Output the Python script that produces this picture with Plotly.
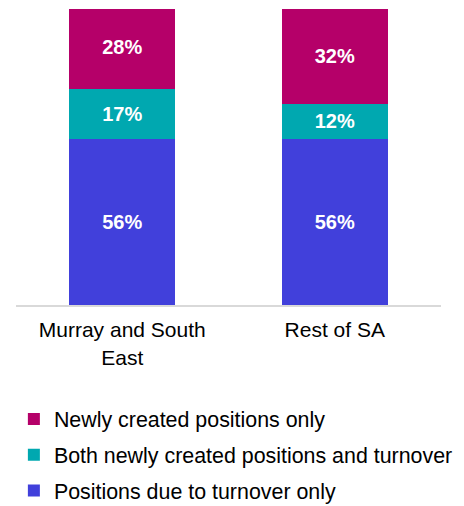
import plotly.graph_objects as go

categories = ["Murray and South<br>East", "Rest of SA"]
turnover_only = [56, 56]
both = [17, 12]
newly_created = [28, 32]

series = [
    ("Positions due to turnover only", turnover_only, "#4140DB", 3),
    ("Both newly created positions and turnover", both, "#00A8B0", 2),
    ("Newly created positions only", newly_created, "#B50069", 1),
]

fig = go.Figure()
for i, (name, vals, color, rank) in enumerate(series):
    fig.add_trace(go.Bar(
        x=categories, y=vals, name=name,
        marker=dict(color=color, line=dict(width=0)),
        texttemplate="%{y:.0f}%", textposition="inside",
        insidetextanchor="middle",
        textfont=dict(family="Liberation Sans, Arial", size=20, color="white", weight="bold"),
        legendgroup=f"g{i}", legendrank=rank,
    ))

# page body has an 8px margin, so the figure is shifted by (8, 8)
fig.update_layout(
    width=456, height=498,
    barmode="stack", bargap=0.5,
    margin=dict(l=8, r=23, t=1, b=201, autoexpand=False),
    paper_bgcolor="white", plot_bgcolor="white",
    font=dict(family="Liberation Sans, Arial", size=21, color="#000000"),
    xaxis=dict(showline=True, linecolor="#D9D9D9", linewidth=2,
               ticks="", showgrid=False, tickfont=dict(size=21),
               ticklabelstandoff=5),
    yaxis=dict(range=[0, 100], visible=False, showgrid=False),
    legend=dict(orientation="v", traceorder="grouped",
                x=-0.005, xanchor="left", y=-0.316, yanchor="top",
                font=dict(size=21.4), tracegroupgap=5,
                itemwidth=30),
    showlegend=True,
)

fig.write_html("out.html")
